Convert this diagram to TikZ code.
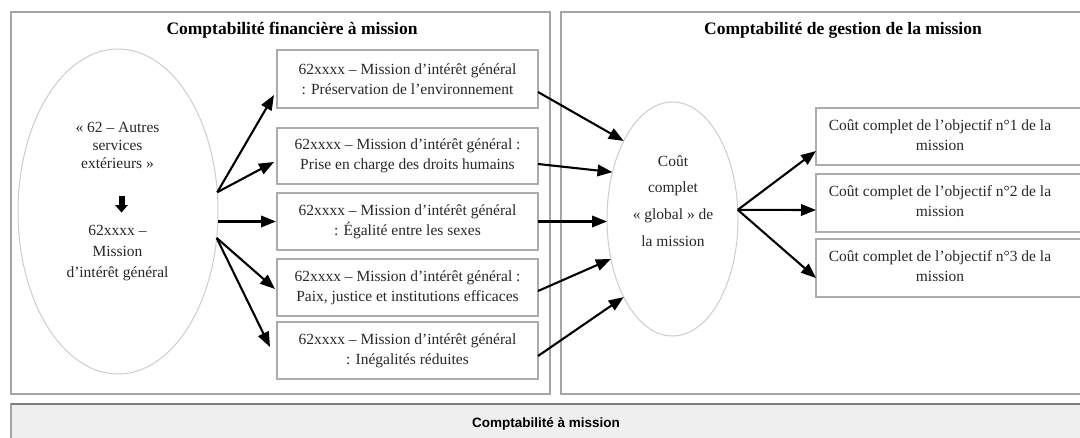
\documentclass[tikz,border=0pt]{standalone}
\usepackage{fontspec}
\setmainfont{Liberation Serif}
\newfontfamily\barfont{Liberation Sans}
\usetikzlibrary{arrows.meta,shapes.geometric}
\definecolor{panelgray}{RGB}{165,165,165}
\definecolor{boxgray}{RGB}{172,172,172}
\definecolor{ellgray}{RGB}{205,205,205}
\definecolor{barfill}{RGB}{239,239,239}
\definecolor{bardark}{RGB}{125,125,125}
\definecolor{txtgray}{RGB}{40,40,40}
\begin{document}
\begin{tikzpicture}[x=1pt,y=-1pt,
 panel/.style={draw=panelgray,line width=1.3pt,rectangle,inner sep=0pt,outer sep=0pt,anchor=north west},
 mbox/.style={draw=boxgray,line width=1.2pt,rectangle,minimum width=261pt,inner sep=0pt,outer sep=0pt,align=center,font=\fontsize{15.5}{20}\selectfont,text=txtgray},
 rbox/.style={draw=boxgray,line width=1.2pt,rectangle,minimum width=276pt,inner sep=0pt,outer sep=0pt},
 ell/.style={draw=ellgray,line width=1pt,ellipse,inner sep=0pt,outer sep=0pt},
 txt/.style={align=center,font=\fontsize{15.5}{20}\selectfont,text=txtgray,inner sep=0pt},
 ttl/.style={font=\fontsize{17.5}{21}\selectfont\bfseries,inner sep=0pt},
 arr/.style={line width=2.1pt,-{Triangle[length=15pt,width=11.5pt]}}]

\useasboundingbox (0,0) rectangle (1080,437);
\clip (0,0) rectangle (1080,437);
\fill[white] (0,0) rectangle (1080,437);

% panels
\node[panel,minimum width=539pt,minimum height=382pt] (pl) at (11,12) {};
\node[panel,minimum width=530pt,minimum height=382pt] (pr) at (561,12) {};
\node[panel,fill=barfill,minimum width=1090pt,minimum height=50pt] (bar) at (11,404) {};
\draw[bardark,line width=2.5pt] (bar.north west) -- (bar.north east);
\node[font=\barfont\bfseries\fontsize{13.5}{16}\selectfont,inner sep=0pt] (bart) at (546,424) {Comptabilité à mission};

% titles
\node[ttl] (tl) at (292,30) {Comptabilité financière à mission};
\node[ttl] (tr) at (843,30) {Comptabilité de gestion de la mission};

% left ellipse
\node[ell,minimum width=200pt,minimum height=325pt] (L) at (118,211.5) {};
\node[txt,font=\fontsize{15.5}{18}\selectfont] (L1) at (117.5,145) {« 62 – Autres\\services\\extérieurs »};
\node[txt,font=\fontsize{15.5}{21}\selectfont] (L2) at (117.5,253) {62xxxx –\\Mission\\d’intérêt général};
\fill[black] (118.5,196) rectangle (124.5,205);
\fill[black] (115,205) -- (128,205) -- (121.5,212.5) -- cycle;

% middle boxes
\node[mbox,minimum height=58pt] (b1) at (407.5,79) {62xxxx – Mission d’intérêt général\\: Préservation de l’environnement};
\node[mbox,minimum height=56pt] (b2) at (407.5,156) {62xxxx – Mission d’intérêt général :\\Prise en charge des droits humains};
\node[mbox,minimum height=57pt] (b3) at (407.5,221.5) {62xxxx – Mission d’intérêt général\\: Égalité entre les sexes};
\node[mbox,minimum height=57pt] (b4) at (407.5,287.5) {62xxxx – Mission d’intérêt général :\\Paix, justice et institutions efficaces};
\node[mbox,minimum height=57pt] (b5) at (407.5,350.5) {62xxxx – Mission d’intérêt général\\: Inégalités réduites};

% middle ellipse
\node[ell,minimum width=131pt,minimum height=234pt] (M) at (672.5,219) {};
\node[txt,font=\fontsize{15.5}{26.7}\selectfont] (Mt) at (673,201) {Coût\\complet\\« global » de\\la mission};

% right boxes
\node[rbox,minimum height=57pt] (r1) at (954,136.5) {};
\node[rbox,minimum height=58pt] (r2) at (954,203) {};
\node[rbox,minimum height=58pt] (r3) at (954,268) {};
\node[txt] (r1t) at (940,135) {Coût complet de l’objectif n°1 de la\\mission};
\node[txt] (r2t) at (940,201.5) {Coût complet de l’objectif n°2 de la\\mission};
\node[txt] (r3t) at (940,266.5) {Coût complet de l’objectif n°3 de la\\mission};

% arrows from left ellipse
\draw[arr] (L.11) -- ([xshift=-3pt,yshift=-16pt]b1.west);
\draw[arr] (L.11) -- ([xshift=-3pt,yshift=-6pt]b2.west);
\draw[arr] (b3.west -| L.east) -- ([xshift=-1pt]b3.west);
\draw[arr] (L.-15) -- ([xshift=-2pt,yshift=-1.5pt]b4.west);
\draw[arr] (L.-15) -- ([xshift=-7pt,yshift=3.5pt]b5.west);

% arrows to middle ellipse
\draw[arr] ([yshift=-13pt]b1.east) -- (M.122);
\draw[arr] ([yshift=-8pt]b2.east) -- (M.142);
\draw[arr] (b3.east) -- (b3.east -| M.west);
\draw[arr] ([yshift=-3.5pt]b4.east) -- (M.213);
\draw[arr] ([yshift=-5.5pt]b5.east) -- (M.238);

% arrows to right boxes
\draw[arr] (M.8) -- ([yshift=-14.5pt]r1.west);
\draw[arr] (M.8) -- ([yshift=-7pt]r2.west);
\draw[arr] (M.8) -- ([yshift=-10pt]r3.west);
\end{tikzpicture}
\end{document}
